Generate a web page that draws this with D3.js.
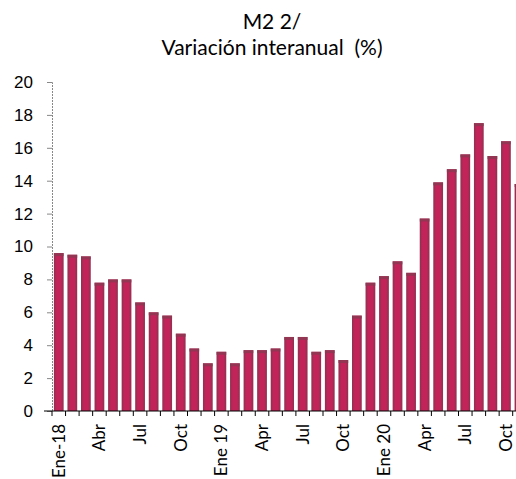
<!DOCTYPE html>
<html>
<head>
<meta charset="utf-8">
<script src="https://cdn.jsdelivr.net/npm/d3@7"></script>
<style>
  body { margin: 0; background: #fff; }
  svg { font-family: Lato, "Open Sans", sans-serif; }
</style>
</head>
<body>
<div id="chart"></div>
<script>
// Datos

let meses = ['Ene-18','Feb','Mar','Abr','May','Jun','Jul','Ago','Sep','Oct','Nov','Dic',
             'Ene 19','Feb','Mar','Apr','May','Jun','Jul','Ago','Sep','Oct','Nov','Dic',
             'Ene 20','Feb','Mar','Apr','May','Jun','Jul','Ago','Sep','Oct','Nov'];
let m2_var = [9.6, 9.5, 9.4, 7.8, 8.0, 8.0, 6.6, 6.0, 5.8, 4.7, 3.8, 2.9,
              3.6, 2.9, 3.7, 3.7, 3.8, 4.5, 4.5, 3.6, 3.7, 3.1, 5.8, 7.8,
              8.2, 9.1, 8.4, 11.7, 13.9, 14.7, 15.6, 17.5, 15.5, 16.4, 13.8];
let y_ticks = [0, 2, 4, 6, 8, 10, 12, 14, 16, 18, 20];
let mostrar_cada = 3; // una etiqueta cada trimestre

// Canvas

let chart_width = 516;
let chart_height = 479;
let m_left = 52, m_top = 82, m_bottom = 411;
let paso = 13.55;

let svg = d3.select('#chart')
    .append('svg')
    .attr('width', chart_width)
    .attr('height', chart_height);

// Gradiente de las barras

let grad = svg.append('defs').append('linearGradient')
    .attr('id', 'barra')
    .attr('x1', '0%').attr('x2', '100%');
[[0, '#8f3150'], [0.3, '#c2245a'], [0.7, '#c2245a'], [1, '#8f3150']].forEach(s => {
    grad.append('stop').attr('offset', s[0]).attr('stop-color', s[1]);
});

// Título

svg.append('text')
    .attr('x', 272).attr('y', 29)
    .attr('text-anchor', 'middle')
    .attr('font-size', 21)
    .text('M2 2/');
svg.append('text')
    .attr('x', 272).attr('y', 55)
    .attr('text-anchor', 'middle')
    .attr('font-size', 21)
    .style('white-space', 'pre')
    .text('Variación interanual  (%)');

// Escalas

let x = d3.scaleBand()
    .domain(d3.range(meses.length))
    .range([m_left, m_left + paso * meses.length])
    .paddingInner(0.28)
    .paddingOuter(0.14);

let y = d3.scaleLinear()
    .domain([0, 20])
    .range([m_bottom, m_top]);

// Barras

svg.selectAll('rect.bar')
    .data(m2_var)
    .enter()
    .append('rect')
    .attr('class', 'bar')
    .attr('x', (d, i) => x(i))
    .attr('y', d => y(d))
    .attr('width', x.bandwidth())
    .attr('height', d => y(0) - y(d))
    .attr('fill', 'url(#barra)');

// tapa superior más oscura
svg.selectAll('rect.tapa')
    .data(m2_var)
    .enter()
    .append('rect')
    .attr('class', 'tapa')
    .attr('x', (d, i) => x(i))
    .attr('y', d => y(d))
    .attr('width', x.bandwidth())
    .attr('height', 3)
    .attr('fill', '#8a3a52')
    .attr('opacity', 0.8);

// Eje Y

let eje_y = svg.append('g')
    .attr('transform', `translate(${m_left},0)`)
    .call(d3.axisLeft(y).tickValues(y_ticks).tickSize(5).tickPadding(14));
eje_y.select('.domain')
    .attr('stroke', '#888')
    .attr('stroke-dasharray', '2,1');
eje_y.selectAll('.tick line').attr('stroke', '#888');
eje_y.selectAll('.tick text')
    .attr('font-size', 17)
    .attr('fill', '#000');

// Eje X

let limites = d3.range(meses.length + 1).map(i => m_left + i * paso);

svg.append('line')
    .attr('x1', m_left - 8).attr('x2', chart_width)
    .attr('y1', m_bottom).attr('y2', m_bottom)
    .attr('stroke', '#000');

svg.selectAll('line.tickx')
    .data(limites)
    .enter()
    .append('line')
    .attr('class', 'tickx')
    .attr('x1', d => d).attr('x2', d => d)
    .attr('y1', m_bottom).attr('y2', m_bottom + 5)
    .attr('stroke', '#000');

svg.selectAll('text.mes')
    .data(meses.map((m, i) => ({m, i})).filter(d => d.i % mostrar_cada === 0))
    .enter()
    .append('text')
    .attr('class', 'mes')
    .attr('transform', d => `translate(${x(d.i) + x.bandwidth() / 2 + 6},${m_bottom + 13}) rotate(-90)`)
    .attr('text-anchor', 'end')
    .attr('font-size', 17)
    .text(d => d.m);
</script>
</body>
</html>
